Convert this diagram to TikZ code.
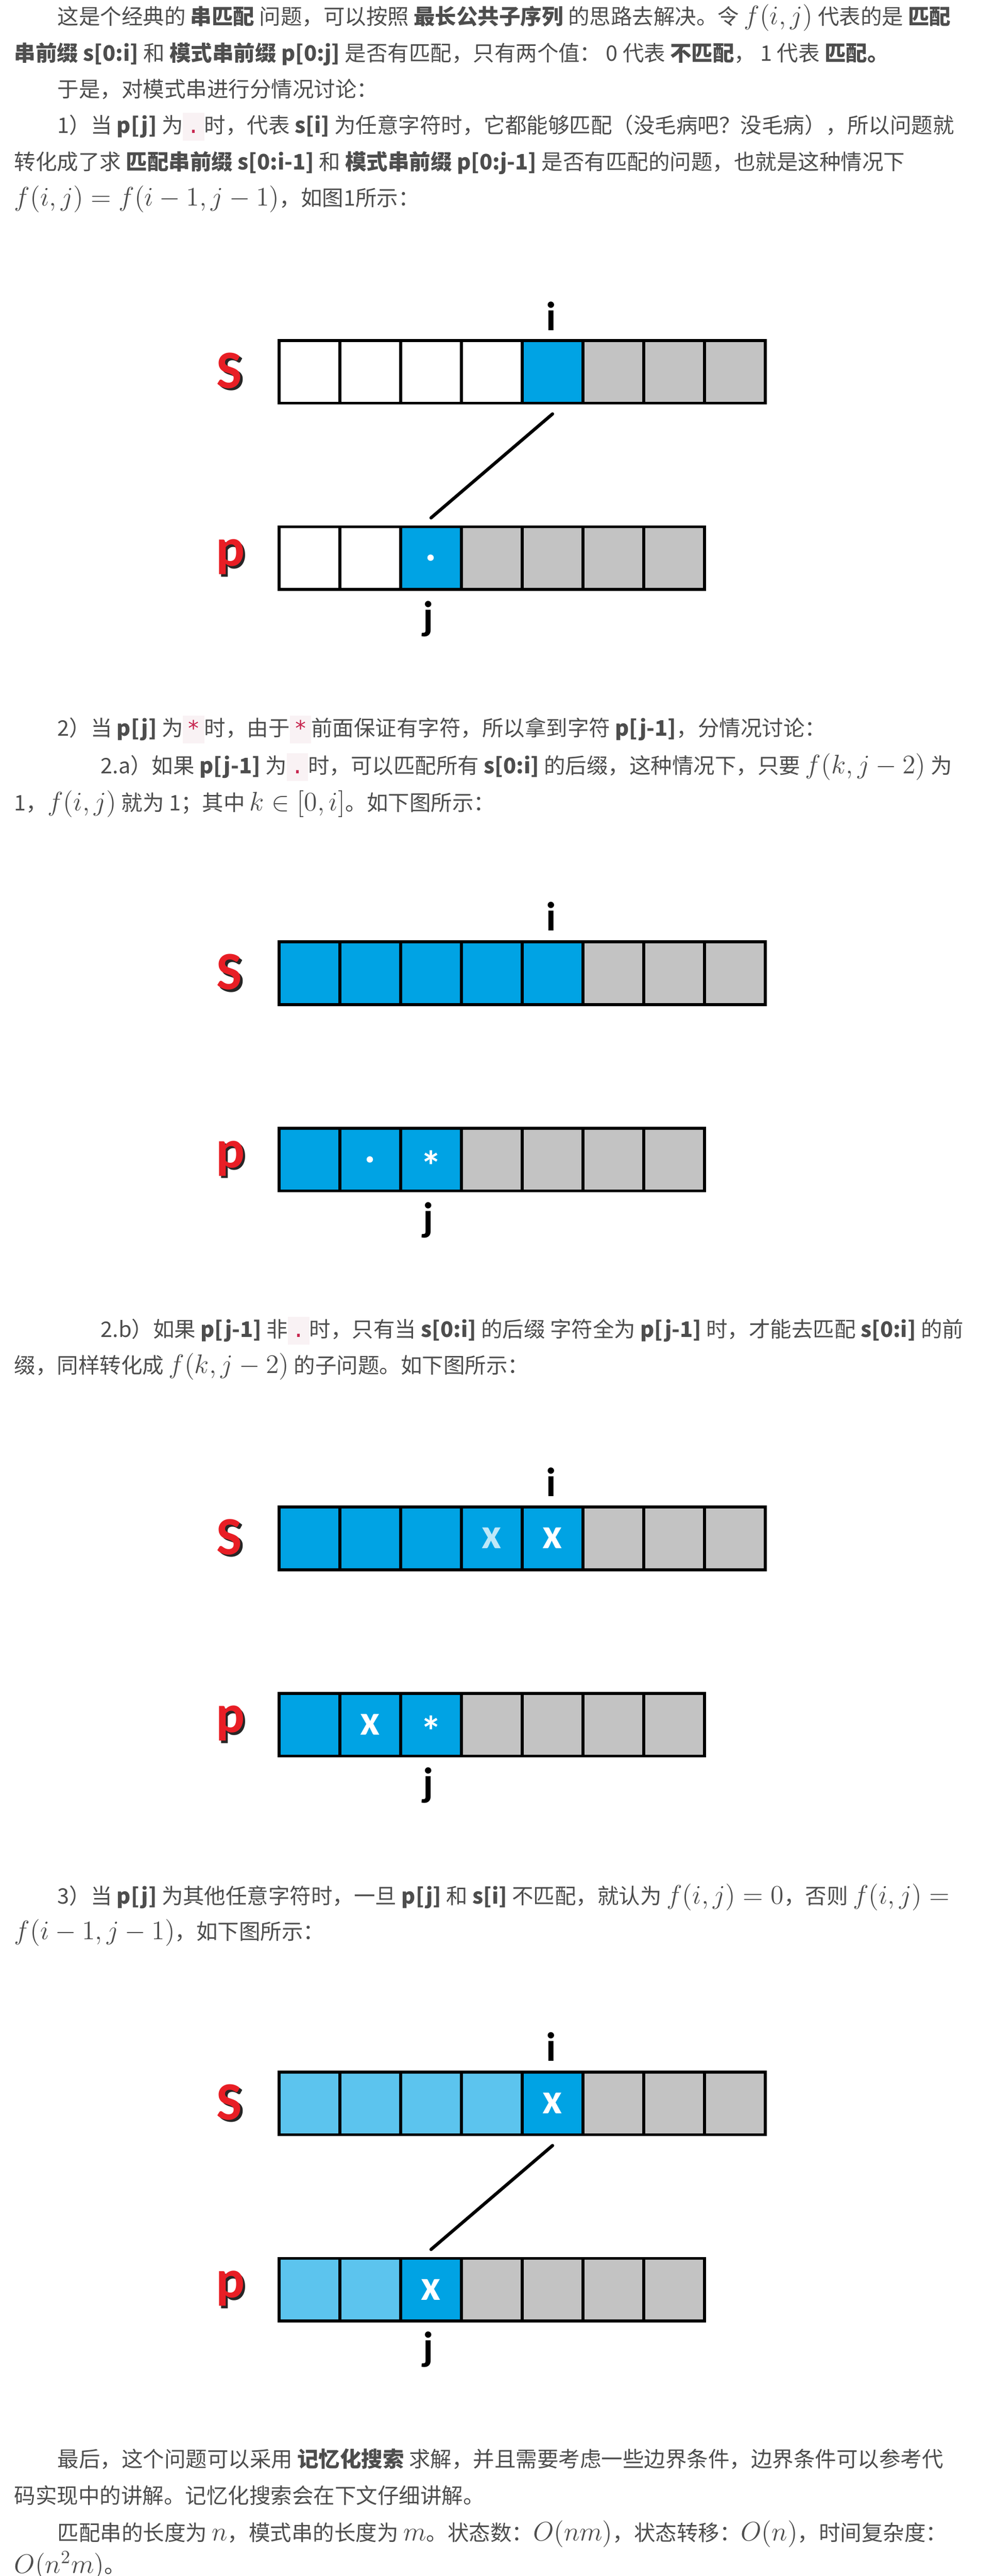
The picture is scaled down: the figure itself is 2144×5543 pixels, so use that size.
\documentclass[tikz,border=0pt]{standalone}
\usepackage[no-math]{fontspec}
\setmainfont{Noto Sans CJK SC}
\newfontfamily\calibri{Carlito}
\newfontfamily\codefont{DejaVu Sans Mono}
\definecolor{ink}{HTML}{4D4D4D}
\definecolor{codebg}{HTML}{F9F2F4}
\definecolor{codefg}{HTML}{C7254E}
\definecolor{hitblue}{RGB}{0,163,228}
\definecolor{pastblue}{RGB}{92,196,238}
\definecolor{restgray}{RGB}{195,195,195}
\definecolor{sred}{RGB}{232,30,37}
\newcommand{\fm}[1]{{\fontsize{13.9}{13.9}\selectfont$#1$}}
\newcommand{\code}[1]{{\setlength{\fboxsep}{0pt}\colorbox{codebg}{\makebox[11.5pt]{\rule[-4pt]{0pt}{15pt}\textcolor{codefg}{\codefont #1}}}}}
\newcommand{\shd}[1]{\makebox[0pt][l]{\hspace{1.2pt}\raisebox{-1.2pt}{\color{black!85}#1}}{\color{sred}#1}}
\tikzset{
  txt/.style={anchor=base west,inner sep=0pt,text=ink,font=\fontsize{11.5}{19.5}\selectfont},
  cell/.style={draw=black,line width=1.6pt,minimum width=32.69pt,minimum height=33.75pt,inner sep=0pt},
  sym/.style={text=white,inner sep=0pt,font=\calibri\bfseries\fontsize{23}{23}\selectfont},
  symstar/.style={sym,yshift=-3.5pt},
  idx/.style={inner sep=0pt,font=\calibri\bfseries\fontsize{22}{22}\selectfont},
  rowname/.style={inner sep=0pt,font=\calibri\bfseries\fontsize{29}{29}\selectfont},
  link/.style={line width=1.75pt,line cap=round}
}
\begin{document}
\begin{tikzpicture}[x=0.25pt,y=-0.25pt]
\useasboundingbox (0,0) rectangle (2144,5543);

\node[txt] (t1) at (123,53) {这是个经典的 \textbf{串匹配} 问题，可以按照 \textbf{最长公共子序列} 的思路去解决。令 \fm{f(i,j)} 代表的是 \textbf{匹配}};
\node[txt] (t2) at (30,131) {\textbf{串前缀 s[0:i]} 和 \textbf{模式串前缀 p[0:j]} 是否有匹配，只有两个值： 0 代表 \textbf{不匹配}， 1 代表 \textbf{匹配。}};
\node[txt] (t3) at (123,209) {于是，对模式串进行分情况讨论：};
\node[txt] (t4) at (123,287) {1）当 \textbf{p[j]} 为\code{.}时，代表 \textbf{s[i]} 为任意字符时，它都能够匹配（没毛病吧？没毛病），所以问题就};
\node[txt] (t5) at (30,365) {转化成了求 \textbf{匹配串前缀 s[0:i-1]} 和 \textbf{模式串前缀 p[0:j-1]} 是否有匹配的问题，也就是这种情况下};
\node[txt] (t6) at (30,443) {\fm{f(i,j)=f(i-1,j-1)}，如图1所示：};

\node[txt] (t7) at (123,1584) {2）当 \textbf{p[j]} 为\code{*}时，由于\code{*}前面保证有字符，所以拿到字符 \textbf{p[j-1]}，分情况讨论：};
\node[txt] (t8) at (216,1665) {2.a）如果 \textbf{p[j-1]} 为\code{.}时，可以匹配所有 \textbf{s[0:i]} 的后缀，这种情况下，只要 \fm{f(k,j-2)} 为};
\node[txt] (t9) at (30,1744) {1，\fm{f(i,j)} 就为 1；其中 \fm{k\in[0,i]}。如下图所示：};

\node[txt] (t10) at (216,2877) {2.b）如果 \textbf{p[j-1]} 非\code{.}时，只有当 \textbf{s[0:i]} 的后缀 字符全为 \textbf{p[j-1]} 时，才能去匹配 \textbf{s[0:i]} 的前};
\node[txt] (t11) at (30,2955) {缀，同样转化成 \fm{f(k,j-2)} 的子问题。如下图所示：};

\node[txt] (t12) at (123,4097) {3）当 \textbf{p[j]} 为其他任意字符时，一旦 \textbf{p[j]} 和 \textbf{s[i]} 不匹配，就认为 \fm{f(i,j)=0}，否则 \fm{f(i,j)=}};
\node[txt] (t13) at (30,4173) {\fm{f(i-1,j-1)}，如下图所示：};

\node[txt] (t14) at (123,5308) {最后，这个问题可以采用 \textbf{记忆化搜索} 求解，并且需要考虑一些边界条件，边界条件可以参考代};
\node[txt] (t15) at (30,5387) {码实现中的讲解。记忆化搜索会在下文仔细讲解。};
\node[txt] (t16) at (123,5467) {匹配串的长度为 \fm{n}，模式串的长度为 \fm{m}。状态数：\fm{O(nm)}，状态转移：\fm{O(n)}，时间复杂度：};
\node[txt] (t17) at (30,5537) {\fm{O(n^2m)}。};

\foreach \c [count=\k] in {white,white,white,white,hitblue,restgray,restgray,restgray}
  \node[cell,fill=\c] (sa\k) at (535.625+130.75*\k,800) {};
\foreach \c [count=\k] in {white,white,hitblue,restgray,restgray,restgray,restgray}
  \node[cell,fill=\c] (pa\k) at (535.625+130.75*\k,1201) {};
\node[rowname] (Sa) at (494,800) {\shd{S}};
\node[rowname] (Pa) at (496,1201) {\shd{p}};
\node[idx] (ia) at (1186,680) {i};
\node[idx] (ja) at (922,1332) {j};
\node[sym] (xa) at (pa3) {.};
\draw[link] ([yshift=-5pt]sa5.south) -- ([yshift=4pt]pa3.north);

\foreach \c [count=\k] in {hitblue,hitblue,hitblue,hitblue,hitblue,restgray,restgray,restgray}
  \node[cell,fill=\c] (sb\k) at (535.625+130.75*\k,2094) {};
\foreach \c [count=\k] in {hitblue,hitblue,hitblue,restgray,restgray,restgray,restgray}
  \node[cell,fill=\c] (pb\k) at (535.625+130.75*\k,2495) {};
\node[rowname] (Sb) at (494,2094) {\shd{S}};
\node[rowname] (Pb) at (496,2495) {\shd{p}};
\node[idx] (ib) at (1186,1972) {i};
\node[idx] (jb) at (922,2626) {j};
\node[sym] (xb2) at (pb2) {.};
\node[symstar] (xb3) at (pb3) {*};

\foreach \c [count=\k] in {hitblue,hitblue,hitblue,hitblue,hitblue,restgray,restgray,restgray}
  \node[cell,fill=\c] (sc\k) at (535.625+130.75*\k,3310) {};
\foreach \c [count=\k] in {hitblue,hitblue,hitblue,restgray,restgray,restgray,restgray}
  \node[cell,fill=\c] (pc\k) at (535.625+130.75*\k,3711) {};
\node[rowname] (Sc) at (494,3310) {\shd{S}};
\node[rowname] (Pc) at (496,3711) {\shd{p}};
\node[idx] (ic) at (1186,3189) {i};
\node[idx] (jc) at (922,3842) {j};
\node[sym,text=white!75!hitblue] (xc4) at (sc4) {x};
\node[sym] (xc5) at (sc5) {x};
\node[sym] (yc2) at (pc2) {x};
\node[symstar] (yc3) at (pc3) {*};

\foreach \c [count=\k] in {pastblue,pastblue,pastblue,pastblue,hitblue,restgray,restgray,restgray}
  \node[cell,fill=\c] (sd\k) at (535.625+130.75*\k,4526) {};
\foreach \c [count=\k] in {pastblue,pastblue,hitblue,restgray,restgray,restgray,restgray}
  \node[cell,fill=\c] (pd\k) at (535.625+130.75*\k,4927) {};
\node[rowname] (Sd) at (494,4526) {\shd{S}};
\node[rowname] (Pd) at (496,4927) {\shd{p}};
\node[idx] (id) at (1186,4404) {i};
\node[idx] (jd) at (922,5055) {j};
\node[sym] (xd5) at (sd5) {x};
\node[sym] (yd3) at (pd3) {x};
\draw[link] ([yshift=-5pt]sd5.south) -- ([yshift=4pt]pd3.north);
\end{tikzpicture}
\end{document}
